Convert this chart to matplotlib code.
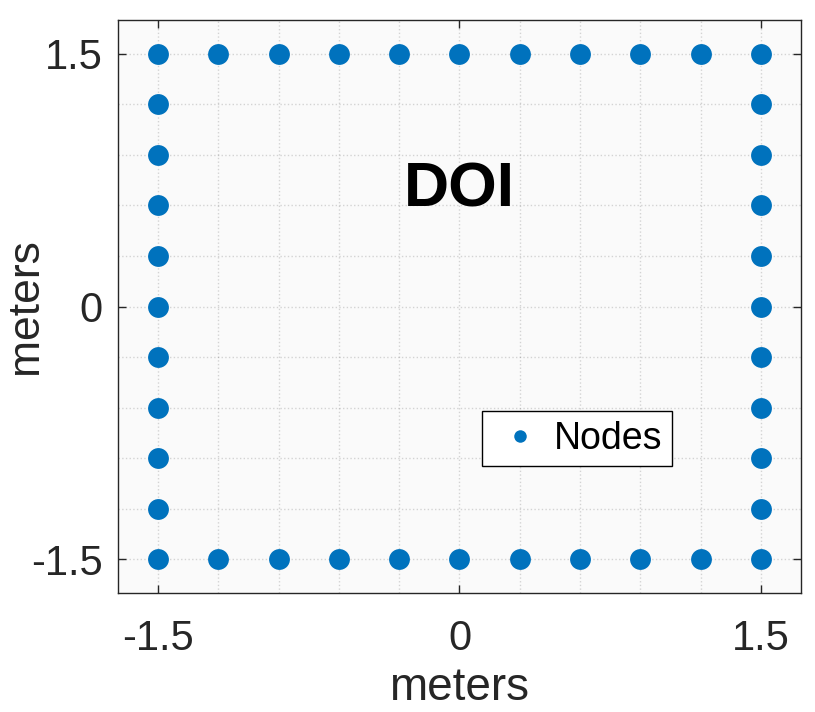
import numpy as np
import matplotlib.pyplot as plt
from matplotlib.ticker import FixedLocator

plt.rcParams['font.family'] = ['Liberation Sans', 'DejaVu Sans']

# node coordinates along one side of the square (meters)
side_pos = [-1.5, -1.2, -0.9, -0.6, -0.3, 0.0, 0.3, 0.6, 0.9, 1.2, 1.5]
edge = 1.5

# nodes around the perimeter of the DOI
top_x = side_pos
top_y = [edge] * len(side_pos)
bottom_x = side_pos
bottom_y = [-edge] * len(side_pos)
left_x = [-edge] * (len(side_pos) - 2)
left_y = side_pos[1:-1]
right_x = [edge] * (len(side_pos) - 2)
right_y = side_pos[1:-1]

node_x = np.array(top_x + bottom_x + left_x + right_x)
node_y = np.array(top_y + bottom_y + left_y + right_y)

major_ticks = [-1.5, 0, 1.5]
tick_labels = ['-1.5', '0', '1.5']

fig = plt.figure(figsize=(8.15, 7.12), dpi=100)
ax = fig.add_axes([0.1448, 0.1671, 0.9828 - 0.1448, 0.9719 - 0.1671])
ax.set_facecolor('#fafafa')

ax.plot(node_x, node_y, linestyle='none', marker='o', markersize=15,
        color='#0072BD', markeredgewidth=0, label='Nodes', zorder=3)

ax.text(0, 0.69, 'DOI', fontsize=45, fontweight='bold', ha='center',
        va='center', color='black')

ax.set_xlim(-1.7, 1.7)
ax.set_ylim(-1.7, 1.7)

ax.set_xticks(major_ticks)
ax.set_xticklabels(tick_labels)
ax.set_yticks(major_ticks)
ax.set_yticklabels(tick_labels)
ax.xaxis.set_minor_locator(FixedLocator(side_pos))
ax.yaxis.set_minor_locator(FixedLocator(side_pos))

ax.tick_params(which='major', direction='in', length=6, width=1,
               top=True, right=True, colors='#262626', labelsize=30)
ax.tick_params(axis='x', which='major', pad=19)
ax.tick_params(axis='y', which='major', pad=11)
ax.tick_params(which='minor', length=0)

ax.grid(True, which='both', linestyle=':', linewidth=1, color='#262626',
        alpha=0.18)
ax.set_axisbelow(True)

for s in ax.spines.values():
    s.set_color('#262626')
    s.set_linewidth(1)

ax.set_xlabel('meters', fontsize=33, color='#262626')
ax.set_ylabel('meters', fontsize=32, color='#262626')
ax.xaxis.set_label_coords(0.5, -0.128)
ax.yaxis.set_label_coords(-0.105, 0.5)

leg = ax.legend(loc='lower left', bbox_to_anchor=(0.533, 0.2216),
                borderaxespad=0, fontsize=27, markerscale=0.6,
                handlelength=1.5, handletextpad=0.17, borderpad=0.25,
                fancybox=False, framealpha=1)
leg.get_frame().set_edgecolor('black')
leg.get_frame().set_linewidth(1)

fig.savefig('out.png', dpi=100)
